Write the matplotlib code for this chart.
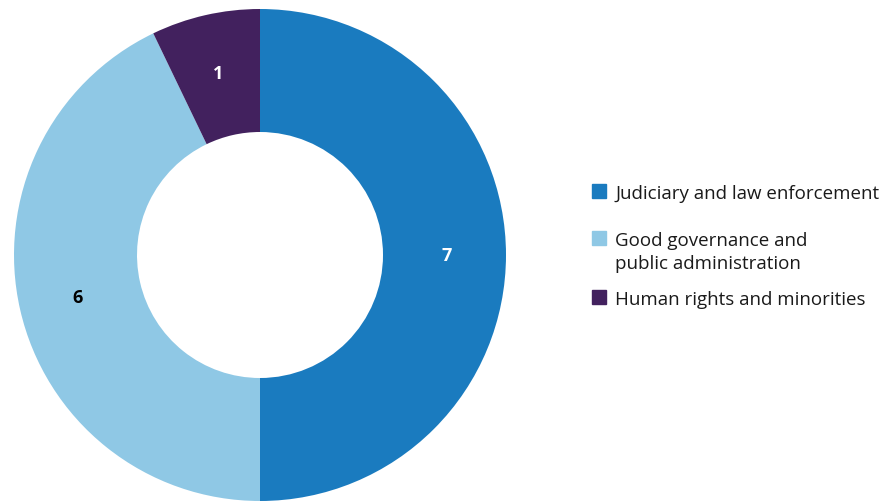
import matplotlib
matplotlib.use("Agg")
import matplotlib.pyplot as plt
from matplotlib.patches import Rectangle
import numpy as np

categories = ["Judiciary and law enforcement",
              "Good governance and\npublic administration",
              "Human rights and minorities"]
values = [7, 6, 1]
colors = ["#1a7bbf", "#8fc8e5", "#42215e"]
label_colors = ["white", "black", "white"]

plt.rcParams['font.family'] = ['Open Sans', 'DejaVu Sans']

W, H = 885, 502
fig = plt.figure(figsize=(W / 100, H / 100), dpi=100)
cx, cy, R = 260, 256, 246
ax = fig.add_axes([(cx - R) / W, (H - cy - R) / H, 2 * R / W, 2 * R / H])
wedges, _ = ax.pie(values, colors=colors, startangle=90, counterclock=False,
                   radius=1.0, wedgeprops=dict(width=0.5, linewidth=0))
for w, v, lc in zip(wedges, values, label_colors):
    ang = np.deg2rad((w.theta1 + w.theta2) / 2)
    ax.text(0.76 * np.cos(ang), 0.76 * np.sin(ang), str(v), ha='center', va='center',
            color=lc, fontsize=13, fontweight='bold')
ax.set_xlim(-1, 1)
ax.set_ylim(-1, 1)
ax.set_aspect('equal')
ax.axis('off')

# legend
rows = [192, 239, 298]
for lab, col, y in zip(categories, colors, rows):
    n = lab.count("\n")
    fig.patches.append(Rectangle((592 / W, 1 - (y + 7) / H), 14 / W, 14 / H,
                                 transform=fig.transFigure, color=col, figure=fig))
    yc = y + 2 + n * 23 / 2
    fig.text(615 / W, 1 - yc / H, lab, ha='left', va='center',
             fontsize=13.5, color='#1a1a1a', linespacing=1.3)

fig.savefig("out.png", dpi=100)
